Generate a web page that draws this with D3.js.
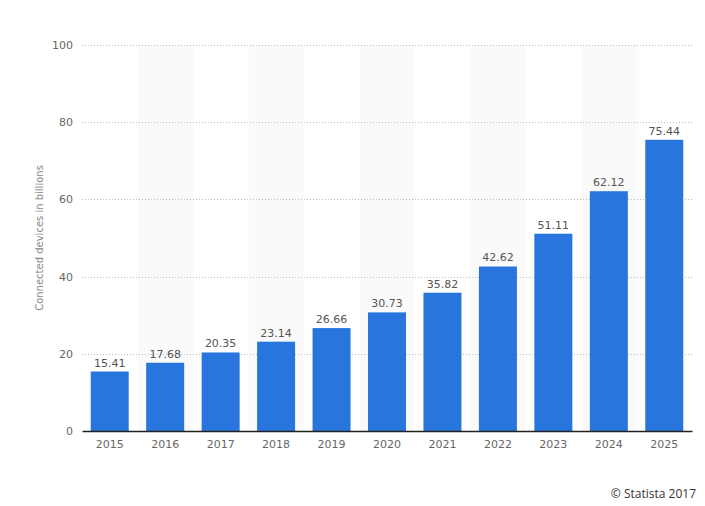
<!DOCTYPE html>
<html><head><meta charset="utf-8">
<script src="https://cdn.jsdelivr.net/npm/d3@7"></script>
<style>body{margin:0;background:#fff}svg{display:block}</style>
</head><body>
<svg id="c" width="705" height="506"></svg>
<script>
const years = ["2015","2016","2017","2018","2019","2020","2021","2022","2023","2024","2025"];
const values = [15.41,17.68,20.35,23.14,26.66,30.73,35.82,42.62,51.11,62.12,75.44];
const yTicks = [0,20,40,60,80,100];
const yTitle = "Connected devices in billions";
const credit = "© Statista 2017";

const svg = d3.select("#c");
const L = 82, R = 692, T = 45, B = 431;
const x = d3.scaleBand().domain(years).range([L, R]).paddingInner(0).paddingOuter(0);
const y = d3.scaleLinear().domain([0, 100]).range([B, T]);
const font = "DejaVu Sans, Verdana, sans-serif";

// alternating bands
svg.append("g").selectAll("rect").data(years.filter((d,i)=>i%2===1)).join("rect")
  .attr("x", d=>x(d)).attr("y", T).attr("width", x.bandwidth()).attr("height", B-T)
  .attr("fill", "#fafafa");

// grid
svg.append("g").selectAll("line").data(yTicks.filter(t=>t>0)).join("line")
  .attr("x1", L).attr("x2", R).attr("y1", d=>Math.round(y(d))+0.5).attr("y2", d=>Math.round(y(d))+0.5)
  .attr("stroke", "#bbb").attr("stroke-width", 1).attr("stroke-dasharray", "1,2");

// y axis labels
const ya = svg.append("g").attr("transform", `translate(${L},0)`)
  .call(d3.axisLeft(y).tickValues(yTicks).tickSize(0).tickPadding(9));
ya.select(".domain").remove();
ya.selectAll("text").attr("font-family", font).attr("font-size", 11).attr("fill", "#666");

// bars
const bw = 38;
svg.append("g").selectAll("rect").data(values).join("rect")
  .attr("x", (d,i)=>x(years[i]) + x.bandwidth()/2 - bw/2)
  .attr("y", d=>y(d)).attr("width", bw).attr("height", d=>B - y(d))
  .attr("fill", "#2876dd");

// value labels
svg.append("g").selectAll("text").data(values).join("text")
  .attr("x", (d,i)=>x(years[i]) + x.bandwidth()/2)
  .attr("y", d=>y(d) - 5)
  .attr("text-anchor", "middle").attr("font-family", font).attr("font-size", 11)
  .attr("fill", "#555").text(d=>d.toFixed(2));

// x axis
const xa = svg.append("g").attr("transform", `translate(0,${B})`)
  .call(d3.axisBottom(x).tickSize(0).tickPadding(9));
xa.select(".domain").attr("stroke", "#222").attr("stroke-width", 1.5);
xa.selectAll("text").attr("font-family", font).attr("font-size", 11).attr("fill", "#666");

// y title
svg.append("text").attr("transform", `translate(43,${(T+B)/2}) rotate(-90)`)
  .attr("text-anchor", "middle").attr("font-family", font).attr("font-size", 10)
  .attr("fill", "#888").text(yTitle);

// credit
svg.append("text").attr("x", 696).attr("y", 498).attr("text-anchor", "end")
  .attr("font-family", "Open Sans, sans-serif").attr("font-size", 12).attr("fill", "#333").text(credit);
</script>
</body></html>
